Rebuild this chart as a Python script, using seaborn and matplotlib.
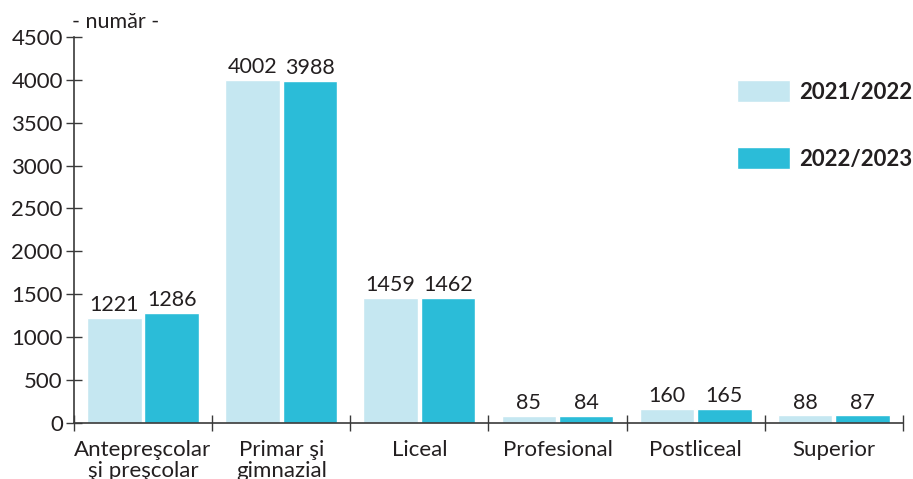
import pandas as pd
import matplotlib.pyplot as plt
import seaborn as sns

# Data
levels = ["Antepreşcolar\nşi preşcolar", "Primar şi\ngimnazial", "Liceal",
          "Profesional", "Postliceal", "Superior"]
years = ["2021/2022", "2022/2023"]
values_2122 = [1221, 4002, 1459, 85, 160, 88]
values_2223 = [1286, 3988, 1462, 84, 165, 87]
colors = ["#c5e7f1", "#2bbcd8"]

df = pd.DataFrame({
    "Nivel": levels * 2,
    "An": [years[0]] * len(levels) + [years[1]] * len(levels),
    "Numar": values_2122 + values_2223,
})

sns.set_style("white")
plt.rcParams["font.family"] = ["Lato", "DejaVu Sans"]
ink = "#231f20"

fig = plt.figure(figsize=(9.13, 4.79), dpi=100)
ax = fig.add_axes([0.081, 0.117, 0.908, 0.806])

sns.barplot(data=df, x="Nivel", y="Numar", hue="An", palette=colors,
            width=0.83, gap=0.05, saturation=1, ax=ax, legend=True)

for cont in ax.containers:
    ax.bar_label(cont, padding=2, fontsize=15.5, color=ink)

ax.set_ylim(0, 4500)
ax.set_yticks(range(0, 4501, 500))
ax.set_xlim(-0.5, len(levels) - 0.5)
ax.set_xlabel("")
ax.set_ylabel("")

for s in ["top", "right"]:
    ax.spines[s].set_visible(False)
for s in ["left", "bottom"]:
    ax.spines[s].set_color("#3a3a3a")
    ax.spines[s].set_linewidth(1.2)

ax.tick_params(axis="y", direction="inout", length=12, width=1.0,
               color="#3a3a3a", labelsize=16, labelcolor=ink, pad=2, left=True)
ax.tick_params(axis="x", which="major", length=0, labelsize=16,
               labelcolor=ink, pad=12)
for lbl in ax.get_xticklabels():
    lbl.set_linespacing(1.1)
ax.set_xticks([i + 0.5 for i in range(-1, len(levels))], minor=True)
ax.tick_params(axis="x", which="minor", direction="inout", length=12,
               width=1.0, color="#3a3a3a", bottom=True)

leg = ax.legend(loc="upper left", bbox_to_anchor=(0.80, 0.888),
                frameon=False, fontsize=16, handlelength=2.4,
                handleheight=1.15, handletextpad=0.4, labelspacing=2.0,
                borderaxespad=0, borderpad=0)
for t in leg.get_texts():
    t.set_fontweight("bold")
    t.set_color(ink)

fig.text(0.079, 0.955, "- număr -", fontsize=15.5, color=ink, va="center")

fig.savefig("out.png", dpi=100)
